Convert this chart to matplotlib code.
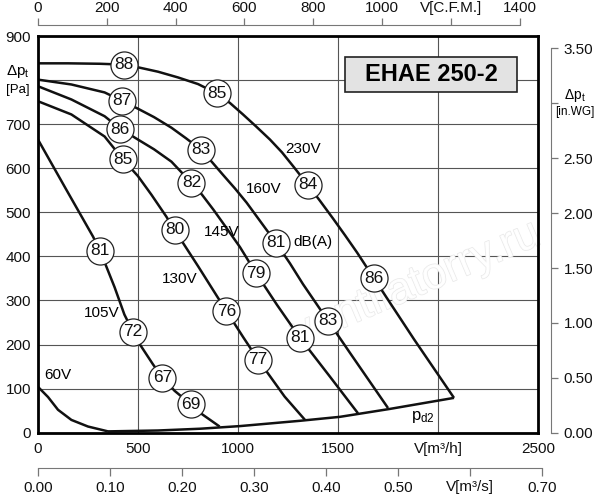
import numpy as np
import matplotlib
matplotlib.use("Agg")
import matplotlib.pyplot as plt
import matplotlib.patheffects as pe
from matplotlib.patches import Rectangle

plt.rcParams["font.family"] = ["Liberation Sans", "DejaVu Sans"]
plt.rcParams["mathtext.fontset"] = "custom"
plt.rcParams["mathtext.rm"] = "Liberation Sans"
plt.rcParams["mathtext.it"] = "Liberation Sans:italic"

# Kennlinien: V [m3/h] -> dp_t [Pa], je Spannungsstufe
q_230 = [0, 150, 310, 430, 500, 600, 700, 800, 893, 960, 1025, 1090, 1160, 1220,
         1275, 1348, 1410, 1475, 1535, 1595, 1680, 1880, 2080]
p_230 = [838, 838, 837, 835, 829, 819, 806, 791, 770, 748, 722, 695, 665, 636,
         605, 563, 526, 486, 448, 409, 350, 212, 79]

q_160 = [0, 167, 333, 420, 500, 580, 667, 740, 815, 870, 925, 985, 1043, 1143,
         1190, 1260, 1325, 1450, 1560, 1750]
p_160 = [801, 790, 772, 753, 735, 716, 692, 668, 642, 614, 585, 554, 522, 460,
         431, 384, 337, 254, 181, 56]

q_145 = [0, 167, 333, 410, 500, 580, 667, 767, 820, 877, 940, 1010, 1090, 1195,
         1310, 1460, 1600]
p_145 = [786, 756, 718, 690, 665, 643, 615, 567, 540, 506, 466, 421, 362, 290,
         215, 127, 44]

q_130 = [0, 167, 333, 425, 500, 567, 642, 683, 723, 800, 900, 942, 1027, 1100,
         1233, 1335]
p_130 = [752, 722, 672, 620, 582, 540, 490, 460, 432, 378, 306, 276, 216, 166,
         82, 29]

q_105 = [0, 142, 275, 310, 383, 432, 475, 507, 575, 622, 683, 763, 817, 908]
p_105 = [665, 551, 445, 413, 330, 268, 229, 202, 155, 125, 95, 65, 43, 14]

q_60 = [0, 50, 100, 167, 250, 350]
p_60 = [104, 81, 52, 29, 14, 3]

# dynamischer Druck pd2
q_pd2 = [350, 600, 810, 1010, 1310, 1510, 1760, 2080]
p_pd2 = [3, 5, 9, 15, 27, 36, 54, 79]

kurven = [(q_230, p_230), (q_160, p_160), (q_145, p_145),
          (q_130, p_130), (q_105, p_105), (q_60, p_60), (q_pd2, p_pd2)]

# Schallleistung dB(A) an Punkten der Kennlinien
db_q = [430, 893, 1348, 1680,
        420, 815, 1190, 1450,
        410, 767, 1090, 1310,
        425, 683, 942, 1100,
        310, 475, 622, 763]
db_p = [835, 770, 563, 350,
        753, 642, 431, 254,
        688, 567, 362, 215,
        620, 460, 276, 166,
        413, 229, 125, 65]
db_wert = ["88", "85", "84", "86",
           "87", "83", "81", "83",
           "86", "82", "79", "81",
           "85", "80", "76", "77",
           "81", "72", "67", "69"]

# Achsen-Beschriftungen
ticks_m3h = [0, 500, 1000, 1500, 2000, 2500]
labels_m3h = ["0", "500", "1000", "1500", "V[m³/h]", "2500"]
ticks_pa = [0, 100, 200, 300, 400, 500, 600, 700, 800, 900]
labels_pa = ["0", "100", "200", "300", "400", "500", "600", "700", "", "900"]
ticks_cfm = [0, 200, 400, 600, 800, 1000, 1200, 1400]
labels_cfm = ["0", "200", "400", "600", "800", "1000", "V[C.F.M.]", "1400"]
ticks_m3s = [0.0, 0.1, 0.2, 0.3, 0.4, 0.5, 0.6, 0.7]
labels_m3s = ["0.00", "0.10", "0.20", "0.30", "0.40", "0.50", "V[m³/s]", "0.70"]
ticks_inwg = [0.0, 0.5, 1.0, 1.5, 2.0, 2.5, 3.0, 3.5]
labels_inwg = ["0.00", "0.50", "1.00", "1.50", "2.00", "2.50", "", "3.50"]

CFM = 1.72      # m3/h je CFM (wie im Original skaliert)
INWG = 249.09   # Pa je in.WG

fig = plt.figure(figsize=(6, 5), dpi=100)
fig.patch.set_facecolor("white")

ax = fig.add_axes([38 / 600, 67.3 / 500, 500 / 600, 396.7 / 500])
ax.set_xlim(0, 2500)
ax.set_ylim(0, 900)
ax.set_xticks(ticks_m3h)
ax.set_xticklabels(labels_m3h)
ax.set_yticks(ticks_pa)
ax.set_yticklabels(labels_pa)
ax.tick_params(length=0, labelsize=11, colors="#111111")
ax.tick_params(axis="x", pad=7)
ax.tick_params(axis="y", pad=5)
ax.grid(True, color="#555555", lw=0.8)
ax.set_axisbelow(True)
for s in ax.spines.values():
    s.set_linewidth(2.0)
    s.set_color("black")
    s.set_zorder(6)

# Wasserzeichen
ax.text(1890, 336, "ventilatorry.ru", fontsize=32, rotation=23, ha="center",
        va="center", color="white", alpha=0.9, zorder=1.5,
        path_effects=[pe.withStroke(linewidth=1.0, foreground="#e6e6e6")])

for q, p in kurven:
    ax.plot(q, p, color="#111111", lw=1.8, solid_capstyle="butt",
            solid_joinstyle="round", zorder=3)

ax.plot(db_q, db_p, "o", ms=19.5, mfc="white", mec="#222222", mew=0.9, zorder=4)
for q, p, t in zip(db_q, db_p, db_wert):
    ax.text(q, p, t, ha="center", va="center", fontsize=12.5, color="#111111", zorder=5)

ax.text(1325, 644, "230V", ha="center", va="center", fontsize=11)
ax.text(1127, 552, "160V", ha="center", va="center", fontsize=11)
ax.text(917, 456, "145V", ha="center", va="center", fontsize=11)
ax.text(710, 348, "130V", ha="center", va="center", fontsize=11)
ax.text(317, 271, "105V", ha="center", va="center", fontsize=11)
ax.text(100, 131, "60V", ha="center", va="center", fontsize=11)
ax.text(1377, 433, "dB(A)", ha="center", va="center", fontsize=11)
ax.text(1925, 35, r"p$_{\mathrm{d2}}$", ha="center", va="center", fontsize=12)

# Typenschild
ax.add_patch(Rectangle((1535, 772), 860, 80, facecolor="#e3e3e3",
                       edgecolor="#222222", lw=1.2, zorder=5))
ax.text(1965, 812, "EHAE 250-2", ha="center", va="center", fontsize=17,
        fontweight="bold", zorder=6)

# linke Achsbeschriftung
fig.text(18 / 600, 1 - 72 / 500, r"Δp$_\mathrm{t}$", ha="center", va="center", fontsize=11)
fig.text(18 / 600, 1 - 90 / 500, "[Pa]", ha="center", va="center", fontsize=9.5)

# obere Achse C.F.M.
ax_top = fig.add_axes([38 / 600, 475 / 500, 500 / 600, 0.0001])
ax_top.set_xlim(0, 2500 / CFM)
ax_top.set_ylim(0, 1)
ax_top.patch.set_visible(False)
for k in ["left", "right", "bottom"]:
    ax_top.spines[k].set_visible(False)
ax_top.spines["top"].set_bounds(0, 1400)
ax_top.spines["top"].set_color("#777777")
ax_top.xaxis.tick_top()
ax_top.set_xticks(ticks_cfm)
ax_top.set_xticklabels(labels_cfm)
ax_top.set_yticks([])
ax_top.tick_params(axis="x", direction="out", length=5, width=0.9, color="#777777",
                   labelsize=11, pad=2, labelcolor="#111111")

# untere Achse m3/s
ax_bot = fig.add_axes([38 / 600, 32 / 500, 504 / 600, 0.0001])
ax_bot.set_xlim(0, 0.70)
ax_bot.set_ylim(0, 1)
ax_bot.patch.set_visible(False)
for k in ["left", "right", "top"]:
    ax_bot.spines[k].set_visible(False)
ax_bot.spines["bottom"].set_color("#777777")
ax_bot.set_xticks(ticks_m3s)
ax_bot.set_xticklabels(labels_m3s)
ax_bot.set_yticks([])
ax_bot.tick_params(axis="x", direction="out", length=6, width=0.9, color="#777777",
                   labelsize=11, pad=3, labelcolor="#111111")

# rechte Achse in.WG
ax_r = fig.add_axes([551 / 600, 67.3 / 500, 0.0001, 396.7 / 500])
ax_r.set_ylim(0, 900 / INWG)
ax_r.set_xlim(0, 1)
ax_r.patch.set_visible(False)
for k in ["left", "top", "bottom"]:
    ax_r.spines[k].set_visible(False)
ax_r.spines["right"].set_bounds(0, 3.5)
ax_r.spines["right"].set_color("#777777")
ax_r.yaxis.tick_right()
ax_r.set_yticks(ticks_inwg)
ax_r.set_yticklabels(labels_inwg)
ax_r.set_xticks([])
ax_r.tick_params(axis="y", direction="out", length=5, width=0.9, color="#777777",
                 labelsize=11, pad=4, labelcolor="#111111")

fig.text(575 / 600, 1 - 96 / 500, r"Δp$_\mathrm{t}$", ha="center", va="center", fontsize=10)
fig.text(575 / 600, 1 - 112 / 500, "[in.WG]", ha="center", va="center", fontsize=8.5)

fig.savefig("out.png", dpi=100)
plt.close(fig)
